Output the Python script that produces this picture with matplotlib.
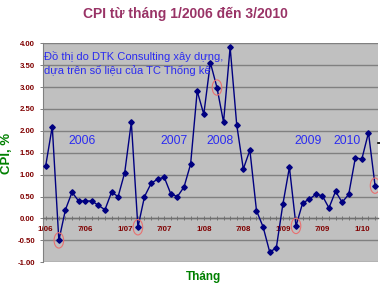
import matplotlib
matplotlib.use("Agg")
import matplotlib.pyplot as plt
from matplotlib.patches import Ellipse
from matplotlib.lines import Line2D
from matplotlib.ticker import MultipleLocator, FixedLocator, FixedFormatter

plt.rcParams['font.family'] = ['Liberation Sans', 'DejaVu Sans']

# Monthly CPI change (%) from 1/2006 to 3/2010
cpi = [1.20, 2.10, -0.50, 0.20, 0.60, 0.40, 0.40, 0.40, 0.30, 0.20, 0.60, 0.50,   # 2006
       1.05, 2.20, -0.20, 0.50, 0.80, 0.90, 0.94, 0.56, 0.50, 0.72, 1.24, 2.91,   # 2007
       2.38, 3.56, 2.99, 2.20, 3.91, 2.14, 1.13, 1.56, 0.18, -0.19, -0.76, -0.68, # 2008
       0.32, 1.17, -0.17, 0.35, 0.44, 0.55, 0.52, 0.24, 0.62, 0.37, 0.55, 1.38,   # 2009
       1.36, 1.96, 0.75]                                                           # 2010
tick_idx = [0, 6, 12, 18, 24, 30, 36, 42, 48]
tick_labels = ["1/06", "7/06", "1/07", "7/07", "1/08", "7/08", "1/09", "7/09", "1/10"]
circled_idx = [2, 14, 26, 38, 50]
year_labels = ["2006", "2007", "2008", "2009", "2010"]
year_x = [5.5, 19.5, 26.4, 39.8, 45.7]
year_y = 1.77

fig = plt.figure(figsize=(3.8, 2.86), dpi=100)
ax = fig.add_axes([0.1124, 0.0829, 0.8824, 0.7657])
ax.set_facecolor('#C0C0C0')

x = list(range(len(cpi)))
ax.plot(x, cpi, color='#000080', lw=1.0, marker='D', ms=2.8, mfc='#000080', mec='#000080', zorder=3)

for i in circled_idx:
    ax.add_patch(Ellipse((i, cpi[i]), width=1.45, height=0.35, fill=False,
                         ec='#E87070', lw=0.8, zorder=4))

ax.set_xlim(-0.45, 50.45)
ax.set_ylim(-1.0, 4.0)
ax.yaxis.set_major_locator(MultipleLocator(0.5))
ax.yaxis.set_major_formatter(matplotlib.ticker.FormatStrFormatter('%.2f'))
ax.grid(axis='y', color='#808080', lw=1.0)
ax.set_axisbelow(True)

for s in ['top', 'right']:
    ax.spines[s].set_visible(False)
ax.spines['left'].set_color('#808080')
ax.spines['bottom'].set_position(('data', 0))
ax.spines['bottom'].set_color('#707070')
ax.spines['bottom'].set_linewidth(1.0)

ax.xaxis.set_major_locator(FixedLocator(tick_idx))
ax.xaxis.set_major_formatter(FixedFormatter(tick_labels))
ax.xaxis.set_minor_locator(MultipleLocator(1))
ax.tick_params(axis='x', which='both', direction='inout', length=3, width=0.7,
               color='#707070', labelsize=5.7, labelcolor='#800000', pad=4.2)
ax.tick_params(axis='y', direction='out', length=2.2, width=0.7, color='#808080',
               labelsize=5.6, labelcolor='#800000', pad=3.4)
for lbl in ax.get_xticklabels() + ax.get_yticklabels():
    lbl.set_fontweight('bold')

ax.text(-0.26, 3.71, "Đồ thị do DTK Consulting xây dựng,", color='#2B2BF0',
        fontsize=8.0, va='center', ha='left')
ax.text(-0.26, 3.38, "dựa trên số liệu của TC Thống kê", color='#2B2BF0',
        fontsize=8.0, va='center', ha='left')
for lx, lt in zip(year_x, year_labels):
    ax.text(lx, year_y, lt, color='#2B2BF0', fontsize=8.8, ha='center', va='center')

fig.text(185 / 380, 1 - 14 / 286, "CPI từ tháng 1/2006 đến 3/2010", color='#993366',
         fontsize=10, fontweight='bold', ha='center', va='center')
fig.text(6.5 / 380, 1 - 153 / 286, "CPI, %", color='#008000', fontsize=9.5,
         fontweight='bold', rotation=90, ha='center', va='center')
fig.text(204 / 380, 1 - 277 / 286, "Tháng", color='#008000', fontsize=8.5,
         fontweight='bold', ha='center', va='center')
fig.add_artist(Line2D([377.5 / 380, 380 / 380], [1 - 143 / 286, 1 - 143 / 286],
                      color='black', lw=1.2))

fig.savefig("out.png", dpi=100)
